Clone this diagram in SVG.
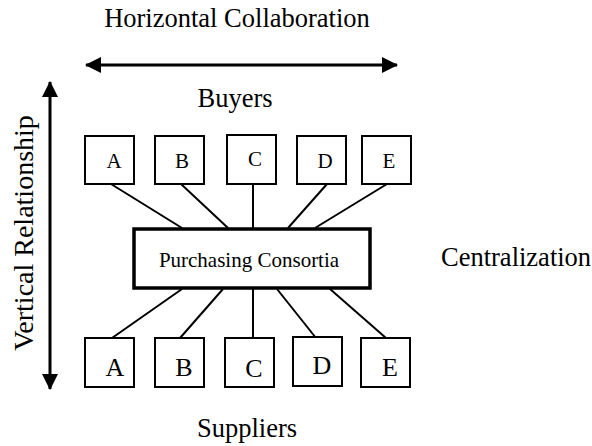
<svg xmlns="http://www.w3.org/2000/svg" width="592" height="446" viewBox="0 0 592 446">
<defs>
<style>
text{font-family:'Liberation Serif',Tinos,'Times New Roman','DejaVu Serif',serif;fill:#000}
.lbl{font-size:26.5px}
.vt{font-size:28px}
.sm{font-size:21px}
.big{font-size:26px}
.box{fill:#fff;stroke:#000;stroke-width:2}
.hub{fill:#fff;stroke:#000;stroke-width:3.5}
.ln{stroke:#000;stroke-width:2;fill:none}
.ax{stroke:#000;stroke-width:3;fill:none}
</style>
<marker id="ah" viewBox="0 0 16 16" refX="15" refY="8" markerWidth="16" markerHeight="16" markerUnits="userSpaceOnUse" orient="auto-start-reverse">
<path d="M0,0 L16,8 L0,16 Z" fill="#000"/>
</marker>
</defs>
<rect width="592" height="446" fill="#fff"/>
<g id="axes">
<line class="ax" x1="86" y1="65" x2="397" y2="65" marker-start="url(#ah)" marker-end="url(#ah)"/>
<line class="ax" x1="50" y1="82" x2="50" y2="389" marker-start="url(#ah)" marker-end="url(#ah)"/>
</g>
<g id="labels">
<text class="lbl" x="237" y="27" text-anchor="middle">Horizontal Collaboration</text>
<text class="lbl" x="235" y="107" text-anchor="middle">Buyers</text>
<text class="lbl" x="247" y="437" text-anchor="middle">Suppliers</text>
<text class="lbl" x="441" y="266">Centralization</text>
<text class="vt" x="0" y="0" text-anchor="middle" transform="translate(33,233) rotate(-90)">Vertical Relationship</text>
</g>
<g id="connectors">
<line class="ln" x1="111" y1="184" x2="182" y2="228"/>
<line class="ln" x1="181" y1="184" x2="228" y2="228"/>
<line class="ln" x1="253" y1="184" x2="253" y2="228"/>
<line class="ln" x1="327" y1="184" x2="288" y2="228"/>
<line class="ln" x1="387" y1="184" x2="315" y2="228"/>
<line class="ln" x1="182" y1="289" x2="112" y2="338"/>
<line class="ln" x1="223" y1="289" x2="180" y2="338"/>
<line class="ln" x1="253" y1="289" x2="253" y2="338"/>
<line class="ln" x1="277" y1="289" x2="316" y2="338"/>
<line class="ln" x1="330" y1="289" x2="386" y2="338"/>
</g>
<g id="hub">
<rect class="hub" x="134" y="229" width="236" height="59"/>
<text class="sm" x="249" y="267" text-anchor="middle">Purchasing Consortia</text>
</g>
<g id="buyer-A"><rect class="box" x="85" y="136" width="49" height="48"/><text class="sm" x="114" y="168" text-anchor="middle">A</text></g>
<g id="buyer-B"><rect class="box" x="155" y="136" width="49" height="48"/><text class="sm" x="182" y="168" text-anchor="middle">B</text></g>
<g id="buyer-C"><rect class="box" x="227" y="135" width="49" height="49"/><text class="sm" x="255" y="166" text-anchor="middle">C</text></g>
<g id="buyer-D"><rect class="box" x="297" y="136" width="49" height="48"/><text class="sm" x="325" y="168" text-anchor="middle">D</text></g>
<g id="buyer-E"><rect class="box" x="362" y="136" width="49" height="48"/><text class="sm" x="389" y="168" text-anchor="middle">E</text></g>
<g id="supplier-A"><rect class="box" x="85" y="338" width="49" height="49"/><text class="big" x="115" y="376" text-anchor="middle">A</text></g>
<g id="supplier-B"><rect class="box" x="155" y="338" width="49" height="49"/><text class="big" x="184" y="376" text-anchor="middle">B</text></g>
<g id="supplier-C"><rect class="box" x="225" y="338" width="49" height="49"/><text class="big" x="254" y="377" text-anchor="middle">C</text></g>
<g id="supplier-D"><rect class="box" x="293" y="337" width="49" height="49"/><text class="big" x="322" y="374" text-anchor="middle">D</text></g>
<g id="supplier-E"><rect class="box" x="361" y="338" width="49" height="49"/><text class="big" x="390" y="376" text-anchor="middle">E</text></g>
</svg>
